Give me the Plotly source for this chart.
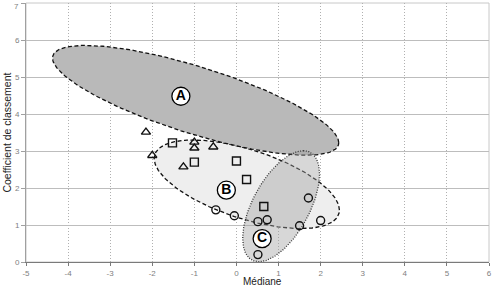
import numpy as np
import plotly.graph_objects as go

# --- data ---
tri_x = [-2.15, -2.0, -1.26, -1.0, -1.0, -0.55]
tri_y = [3.51, 2.88, 2.57, 3.24, 3.08, 3.11]
sq_x = [-1.52, -1.0, 0.0, 0.24, 0.65]
sq_y = [3.22, 2.70, 2.73, 2.23, 1.50]
circ_x = [-0.49, -0.05, 0.51, 0.73, 1.71, 2.0, 1.5, 0.51]
circ_y = [1.41, 1.25, 1.09, 1.14, 1.73, 1.12, 0.98, 0.20]

groups = ["A", "B", "C"]
label_x = [-1.32, -0.24, 0.61]
label_y = [4.48, 1.94, 0.63]

x_ticks = [-5, -4, -3, -2, -1, 0, 1, 2, 3, 4, 5, 6]
y_ticks = [0, 1, 2, 3, 4, 5, 6, 7]

t = np.linspace(0, 2 * np.pi, 200)

# A: x = cx + W cos t ; y = cy + s*W cos t + H sin t
A_x = -0.97 + 3.40 * np.cos(t)
A_y = 4.37 - 1.143 * np.cos(t) + 0.946 * np.sin(t)
# B
B_x = 0.246 + 2.20 * np.cos(t)
B_y = 2.10 - 0.697 * np.cos(t) + 0.973 * np.sin(t)
# C: y = cy + Hv cos t ; x = cx + k*Hv cos t + Wh sin t
C_y = 1.508 + 1.5 * np.cos(t)
C_x = 1.061 + 0.528 * np.cos(t) + 0.744 * np.sin(t)

fig = go.Figure()

fig.add_trace(go.Scatter(x=B_x, y=B_y, mode="lines", fill="toself",
                         fillcolor="#eeeeee",
                         line=dict(color="#111111", width=1.3, dash="4px,2.5px"),
                         hoverinfo="skip", showlegend=False))
fig.add_trace(go.Scatter(x=A_x, y=A_y, mode="lines", fill="toself",
                         fillcolor="#b9b9b9",
                         line=dict(color="#111111", width=1.3, dash="4px,2.5px"),
                         hoverinfo="skip", showlegend=False))
fig.add_trace(go.Scatter(x=C_x, y=C_y, mode="lines", fill="toself",
                         fillcolor="rgba(160,160,160,0.42)",
                         line=dict(color="#333333", width=1.3, dash="1px,1.5px"),
                         hoverinfo="skip", showlegend=False))

mk_line = dict(color="#111111", width=1.4)
fig.add_trace(go.Scatter(x=tri_x, y=tri_y, mode="markers",
                         marker=dict(symbol="triangle-up-open", size=8, color="#111111", line=mk_line),
                         showlegend=False))
fig.add_trace(go.Scatter(x=sq_x, y=sq_y, mode="markers",
                         marker=dict(symbol="square-open", size=8, color="#111111", line=mk_line),
                         showlegend=False))
fig.add_trace(go.Scatter(x=circ_x, y=circ_y, mode="markers",
                         marker=dict(symbol="circle-open", size=8, color="#111111", line=mk_line),
                         showlegend=False))

fig.add_trace(go.Scatter(x=label_x, y=label_y, mode="markers+text",
                         text=["<b>" + g + "</b>" for g in groups],
                         textposition="middle center",
                         textfont=dict(family="Liberation Sans, Arial", size=14, color="#000000"),
                         marker=dict(symbol="circle", size=18, color="white",
                                     line=dict(color="#000000", width=1.3)),
                         showlegend=False))

tick_font = dict(family="Liberation Sans, Arial", size=8, color="#808080")

fig.update_xaxes(range=[-5, 6], tickvals=x_ticks, ticktext=[str(v) for v in x_ticks],
                 showgrid=True, gridcolor="#b0b0b0", gridwidth=1, griddash="1px,2px",
                 zeroline=False, showline=True, linecolor="#7a7a7a", linewidth=1,
                 ticks="outside", ticklen=3, tickcolor="#7a7a7a", tickfont=tick_font,
                 ticklabeloverflow="allow")
# the top label is drawn separately below (plotly drops a label on the very top edge)
fig.update_yaxes(range=[0, 7], tickvals=y_ticks,
                 ticktext=[str(v) for v in y_ticks[:-1]] + [""],
                 showgrid=True, gridcolor="#bdbdbd", gridwidth=1,
                 zeroline=False, showline=True, linecolor="#a0a0a0", linewidth=1,
                 ticks="outside", ticklen=4, tickcolor="#a0a0a0", tickfont=tick_font)

fig.add_annotation(text=str(y_ticks[-1]), xref="paper", yref="paper", x=0, y=1,
                   xanchor="right", yanchor="top", xshift=-5, yshift=3, showarrow=False,
                   font=tick_font)

fig.add_shape(type="rect", xref="paper", yref="paper", x0=0, x1=1, y0=0, y1=1,
              line=dict(color="#c8c8c8", width=1), layer="below")

fig.add_annotation(text="Coefficient de classement", xref="paper", yref="paper",
                   x=-0.043, y=0.5, textangle=-90, showarrow=False,
                   xanchor="center", yanchor="middle",
                   font=dict(family="Liberation Sans, Arial", size=10.5, color="#222222"))
fig.add_annotation(text="Médiane", xref="paper", yref="paper",
                   x=0.511, y=-0.075, showarrow=False,
                   xanchor="center", yanchor="middle",
                   font=dict(family="Liberation Sans, Arial", size=10, color="#222222"))

fig.update_layout(width=495, height=285,
                  margin=dict(l=26, r=4, t=3, b=23),
                  paper_bgcolor="white", plot_bgcolor="white")

fig.write_html("out.html")
